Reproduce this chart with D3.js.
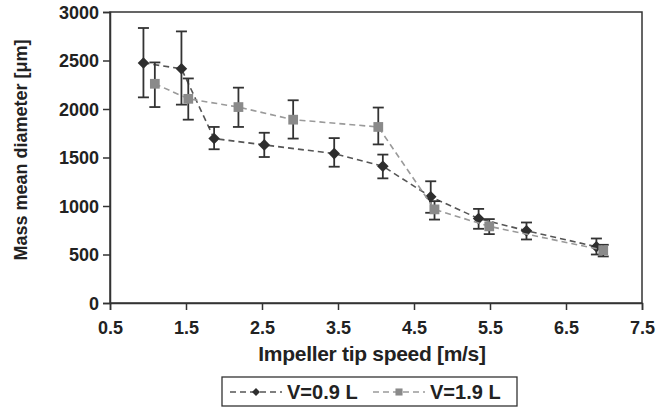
<!DOCTYPE html>
<html>
<head>
<meta charset="utf-8">
<script src="https://cdn.jsdelivr.net/npm/d3@7"></script>
<style>
  body { margin: 0; background: #fff; }
  text { font-family: "Liberation Sans", Arial, sans-serif; font-weight: bold; fill: #222; }
</style>
</head>
<body>
<div id="chart"></div>
<script>
// V=0.9 L
var speed09 = [0.94, 1.44, 1.87, 2.53, 3.45, 4.09, 4.72, 5.35, 5.98, 6.90];
var diam09  = [2475, 2415, 1695, 1630, 1540, 1410, 1095, 870, 745, 580];
var low09   = [2120, 2045, 1585, 1505, 1405, 1285, 930, 765, 655, 500];
var high09  = [2835, 2800, 1815, 1755, 1700, 1530, 1255, 970, 830, 665];

// V=1.9 L
var speed19 = [1.09, 1.53, 2.19, 2.91, 4.03, 4.77, 5.49, 6.99];
var diam19  = [2260, 2105, 2020, 1890, 1815, 965, 790, 545];
var low19   = [2020, 1890, 1815, 1695, 1635, 860, 710, 480];
var high19  = [2480, 2315, 2220, 2090, 2015, 1050, 865, 600];

var xTicks = [0.5, 1.5, 2.5, 3.5, 4.5, 5.5, 6.5, 7.5];
var yTicks = [0, 500, 1000, 1500, 2000, 2500, 3000];
var seriesNames = ["V=0.9 L", "V=1.9 L"];

var W = 671, H = 412;
var margin = {top: 12, right: 29, bottom: 109, left: 110};
var width = W - margin.left - margin.right,
    height = H - margin.top - margin.bottom;

var svg = d3.select("#chart").append("svg")
    .attr("width", W).attr("height", H);
var g = svg.append("g")
    .attr("transform", "translate(" + margin.left + "," + margin.top + ")");

var x = d3.scaleLinear().domain([0.5, 7.5]).range([0, width]);
var y = d3.scaleLinear().domain([0, 3000]).range([height, 0]);

// frame
g.append("rect")
  .attr("width", width).attr("height", height)
  .attr("fill", "none").attr("stroke", "#333").attr("stroke-width", 1.5);

// axes
var xAxis = g.append("g")
  .attr("transform", "translate(0," + height + ")")
  .call(d3.axisBottom(x).tickValues(xTicks).tickFormat(d3.format(".1f")).tickSize(7).tickPadding(6));
var yAxis = g.append("g")
  .call(d3.axisLeft(y).tickValues(yTicks).tickFormat(d3.format("d")).tickSize(7).tickPadding(4));
[xAxis, yAxis].forEach(function(a) {
  a.select(".domain").attr("stroke", "#333").attr("stroke-width", 1.5);
  a.selectAll(".tick line").attr("stroke", "#333").attr("stroke-width", 1.5);
  a.selectAll(".tick text").style("font-size", "18px").attr("fill", "#222");
});
yAxis.selectAll(".tick text").attr("dy", "0.35em");
xAxis.selectAll(".tick text").attr("y", 0).attr("dy", 0)
  .attr("transform", "translate(0," + (334 - margin.top - height) + ")");

// axis titles
svg.append("text")
  .attr("x", margin.left + width / 2 - 4).attr("y", 361)
  .attr("text-anchor", "middle").style("font-size", "21px")
  .attr("letter-spacing", "-0.3")
  .text("Impeller tip speed [m/s]");
svg.append("text")
  .attr("transform", "translate(27," + 150 + ") rotate(-90)")
  .attr("text-anchor", "middle").style("font-size", "18px")
  .text("Mass mean diameter [μm]");

function zipSeries(xs, ys, lo, hi) {
  return xs.map(function(d, i) { return {x: d, y: ys[i], lo: lo[i], hi: hi[i]}; });
}
var data09 = zipSeries(speed09, diam09, low09, high09);
var data19 = zipSeries(speed19, diam19, low19, high19);

var line = d3.line().x(function(d) { return x(d.x); }).y(function(d) { return y(d.y); });

function drawSeries(data, color, symbolType, symSize, symColor) {
  g.append("path").datum(data)
    .attr("d", line)
    .attr("fill", "none").attr("stroke", color)
    .attr("stroke-width", 1.6).attr("stroke-dasharray", "6,4");

  var eb = g.append("g").selectAll("g").data(data).enter().append("g")
    .attr("stroke", "#333").attr("stroke-width", 1.8);
  eb.append("line")
    .attr("x1", function(d) { return x(d.x); }).attr("x2", function(d) { return x(d.x); })
    .attr("y1", function(d) { return y(d.lo); }).attr("y2", function(d) { return y(d.hi); });
  eb.append("line")
    .attr("x1", function(d) { return x(d.x) - 5.5; }).attr("x2", function(d) { return x(d.x) + 5.5; })
    .attr("y1", function(d) { return y(d.lo); }).attr("y2", function(d) { return y(d.lo); });
  eb.append("line")
    .attr("x1", function(d) { return x(d.x) - 5.5; }).attr("x2", function(d) { return x(d.x) + 5.5; })
    .attr("y1", function(d) { return y(d.hi); }).attr("y2", function(d) { return y(d.hi); });

  g.append("g").selectAll("path").data(data).enter().append("path")
    .attr("d", d3.symbol().type(symbolType).size(symSize))
    .attr("transform", function(d) { return "translate(" + x(d.x) + "," + y(d.y) + ")"; })
    .attr("fill", symColor);
}

drawSeries(data09, "#555", d3.symbolDiamond2, 85, "#2e2e2e");
drawSeries(data19, "#9a9a9a", d3.symbolSquare, 95, "#8a8a8a");

// legend
var leg = svg.append("g").attr("transform", "translate(222,377)");
leg.append("rect").attr("width", 295).attr("height", 29)
  .attr("fill", "#fff").attr("stroke", "#333").attr("stroke-width", 1.3);
var legItems = [
  {name: seriesNames[0], color: "#555", sym: d3.symbolDiamond2, size: 40, fill: "#2e2e2e", x0: 8},
  {name: seriesNames[1], color: "#9a9a9a", sym: d3.symbolSquare, size: 50, fill: "#8a8a8a", x0: 151}
];
legItems.forEach(function(it) {
  var li = leg.append("g").attr("transform", "translate(" + it.x0 + ",15)");
  li.append("line").attr("x1", 0).attr("x2", 52).attr("y1", 0).attr("y2", 0)
    .attr("stroke", it.color).attr("stroke-width", 1.4).attr("stroke-dasharray", "6,4");
  li.append("path").attr("d", d3.symbol().type(it.sym).size(it.size)())
    .attr("transform", "translate(26,0)").attr("fill", it.fill);
  li.append("text").attr("x", 57).attr("y", 0).attr("dy", "0.36em")
    .style("font-size", "20px").text(it.name);
});
</script>
</body>
</html>
